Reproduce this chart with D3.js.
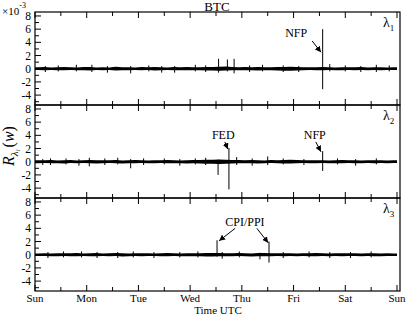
<!DOCTYPE html>
<html>
<head>
<meta charset="utf-8">
<script src="https://cdn.jsdelivr.net/npm/d3@7/dist/d3.min.js"></script>
<style>
  body { margin: 0; background: #fff; }
  svg, text { font-family: "Liberation Serif", "Times New Roman", Times, "DejaVu Serif", serif; }
  text { fill: #000; }
</style>
</head>
<body>
<svg id="chart" width="407" height="315"></svg>
<script>
// day labels on the time axis (one week, UTC)
var days = ['Sun', 'Mon', 'Tue', 'Wed', 'Thu', 'Fri', 'Sat', 'Sun'];
var yTicks = [-4, -2, 0, 2, 4, 6, 8];
var panelIndex = ['1', '2', '3'];

// noise envelope, one value every 3 hours (x10^-3)
var bandHi1 = [0.22,0.26,0.20,0.24,0.28,0.21,0.19,0.25, 0.27,0.20,0.23,0.19,0.29,0.24,0.21,0.20,
  0.25,0.21,0.27,0.23,0.19,0.25,0.22,0.26, 0.24,0.21,0.27,0.25,0.30,0.32,0.27,0.23,
  0.25,0.22,0.27,0.24,0.21,0.25,0.28,0.31, 0.27,0.24,0.23,0.21,0.26,0.22,0.20,0.24,
  0.23,0.21,0.25,0.19,0.22,0.24,0.20,0.21];
var bandLo1 = [-0.20,-0.24,-0.21,-0.25,-0.23,-0.19,-0.24,-0.22, -0.26,-0.21,-0.24,-0.20,-0.27,-0.23,-0.25,-0.21,
  -0.24,-0.20,-0.26,-0.24,-0.21,-0.23,-0.25,-0.22, -0.24,-0.23,-0.27,-0.28,-0.31,-0.28,-0.25,-0.24,
  -0.23,-0.25,-0.27,-0.24,-0.22,-0.26,-0.30,-0.29, -0.27,-0.24,-0.21,-0.24,-0.23,-0.20,-0.24,-0.22,
  -0.21,-0.23,-0.20,-0.24,-0.19,-0.22,-0.21,-0.20];
var bandHi2 = [0.21,0.24,0.26,0.20,0.23,0.25,0.19,0.22, 0.28,0.24,0.21,0.24,0.26,0.20,0.23,0.25,
  0.22,0.19,0.24,0.21,0.26,0.23,0.20,0.24, 0.25,0.27,0.29,0.31,0.33,0.30,0.28,0.25,
  0.24,0.26,0.23,0.20,0.25,0.22,0.27,0.30, 0.26,0.23,0.24,0.21,0.24,0.20,0.22,0.25,
  0.21,0.24,0.20,0.23,0.24,0.21,0.19,0.22];
var bandLo2 = [-0.23,-0.20,-0.24,-0.22,-0.26,-0.21,-0.24,-0.20, -0.25,-0.28,-0.23,-0.21,-0.24,-0.27,-0.22,-0.24,
  -0.21,-0.24,-0.23,-0.20,-0.25,-0.22,-0.24,-0.26, -0.23,-0.27,-0.30,-0.32,-0.34,-0.31,-0.27,-0.24,
  -0.25,-0.22,-0.27,-0.24,-0.21,-0.24,-0.28,-0.26, -0.24,-0.21,-0.25,-0.23,-0.20,-0.24,-0.22,-0.24,
  -0.20,-0.23,-0.25,-0.21,-0.24,-0.20,-0.22,-0.21];
var bandHi3 = [0.20,0.23,0.19,0.24,0.21,0.24,0.26,0.20, 0.22,0.25,0.20,0.23,0.27,0.21,0.19,0.24,
  0.21,0.24,0.20,0.23,0.25,0.22,0.19,0.24, 0.23,0.21,0.26,0.28,0.27,0.24,0.22,0.25,
  0.23,0.20,0.25,0.27,0.24,0.21,0.24,0.22, 0.20,0.24,0.21,0.25,0.23,0.19,0.22,0.24,
  0.21,0.23,0.20,0.24,0.22,0.19,0.21,0.20];
var bandLo3 = [-0.21,-0.19,-0.24,-0.22,-0.20,-0.24,-0.23,-0.21, -0.25,-0.22,-0.20,-0.24,-0.21,-0.26,-0.23,-0.20,
  -0.24,-0.21,-0.19,-0.24,-0.22,-0.20,-0.23,-0.25, -0.22,-0.24,-0.27,-0.26,-0.24,-0.25,-0.23,-0.21,
  -0.24,-0.26,-0.23,-0.25,-0.22,-0.20,-0.24,-0.21, -0.23,-0.20,-0.24,-0.22,-0.21,-0.24,-0.20,-0.23,
  -0.21,-0.19,-0.23,-0.20,-0.22,-0.24,-0.20,-0.21];

// jumps: [day, high, low]; the small ones give the band its fuzz
var spikes1 = [[0.2,0.4,-0.5],[0.45,0.5,-0.4],[0.8,0.6,-0.4],[1.1,0.6,-0.5],[1.4,0.4,-0.6],[1.85,0.4,-0.7],
  [2.2,0.5,-0.4],[2.45,0.4,-0.6],[2.7,0.4,-0.6],[3.1,0.6,-0.4],[3.3,0.5,-0.5],[3.55,1.5,-0.6],
  [3.72,1.4,-0.4],[3.85,1.5,-0.7],[4.15,0.5,-0.5],[4.4,0.6,-0.4],[4.8,0.5,-0.5],[5.1,0.4,-0.5],
  [5.5625,6.0,-3.1],[5.7,0.7,-0.4],[6.0,0.5,-0.4],[6.3,0.4,-0.5],[6.6,0.6,-0.5],[6.85,0.5,-0.4]];
var spikes2 = [[0.15,0.4,-0.5],[0.3,0.5,-0.5],[0.6,0.5,-0.4],[0.85,0.4,-0.6],[1.05,0.6,-0.7],[1.35,0.5,-0.5],
  [1.6,0.6,-0.4],[1.85,0.4,-1.0],[2.1,0.5,-0.5],[2.5,0.5,-0.4],[2.8,0.4,-0.6],[3.1,0.5,-0.4],
  [3.3,0.6,-0.5],[3.54,0.3,-2.0],[3.75,2.1,-4.2],[3.9,0.7,-0.5],[4.2,0.5,-0.6],[4.5,0.8,-0.5],
  [4.8,0.5,-0.4],[5.2,0.4,-0.5],[5.5625,1.6,-1.4],[5.85,0.5,-0.4],[6.2,0.4,-0.6],[6.6,0.5,-0.4]];
var spikes3 = [[0.25,0.4,-0.5],[0.55,0.5,-0.4],[0.9,0.5,-0.4],[1.2,0.4,-0.5],[1.6,0.4,-0.5],[1.9,0.5,-0.4],
  [2.3,0.4,-0.5],[2.8,0.4,-0.4],[3.15,0.5,-0.4],[3.52,2.2,-0.3],[3.62,0.4,-0.6],[3.95,0.5,-0.4],
  [4.35,0.3,-0.7],[4.525,2.0,-1.2],[4.8,0.4,-0.5],[5.3,0.5,-0.4],[5.7,0.4,-0.5],[6.1,0.4,-0.5],[6.5,0.5,-0.4]];

// event notes: label at [day, value], arrows [tailDay, tailVal, tipDay, tipVal]
var notes1 = [{ text: 'NFP', at: [5.05, 4.8], arrows: [[5.36, 4.2, 5.53, 2.5]] }];
var notes2 = [{ text: 'FED', at: [3.64, 3.4], arrows: [[3.67, 3.0, 3.73, 1.9]] },
  { text: 'NFP', at: [5.41, 3.4], arrows: [[5.43, 3.0, 5.53, 1.5]] }];
var notes3 = [{ text: 'CPI/PPI', at: [4.06, 4.35], arrows: [[3.87, 4.0, 3.56, 2.1], [4.29, 4.0, 4.51, 1.8]] }];

var panels = [
  { hi: bandHi1, lo: bandLo1, spikes: spikes1, notes: notes1 },
  { hi: bandHi2, lo: bandLo2, spikes: spikes2, notes: notes2 },
  { hi: bandHi3, lo: bandLo3, spikes: spikes3, notes: notes3 }
];

var left = 35, frameRight = 400, top0 = 12, panelH = 93;

var svg = d3.select('#chart');
var x = d3.scaleLinear().domain([0, 7]).range([35, 397]);
var y = d3.scaleLinear().domain([-5.5, 8.6]).range([panelH, 0]);

svg.append('defs').append('marker')
  .attr('id', 'head')
  .attr('viewBox', '0 0 8 8')
  .attr('refX', 8).attr('refY', 4)
  .attr('markerWidth', 6).attr('markerHeight', 6)
  .attr('markerUnits', 'userSpaceOnUse')
  .attr('orient', 'auto')
  .append('path')
  .attr('d', 'M0,0L8,4L0,8z')
  .attr('fill', '#000');

var majorX = d3.range(0, 8), minorX = d3.range(0.5, 7, 1);
var minorY = d3.range(-5, 9, 2);

panels.forEach(function(p, i) {
  var g = svg.append('g').attr('transform', 'translate(0,' + (top0 + i * panelH) + ')');

  var band = p.hi.map(function(h, k) { return { t: (k + 0.5) * 3 / 24, hi: h, lo: p.lo[k] }; });
  band.unshift({ t: 0, hi: p.hi[0], lo: p.lo[0] });
  band.push({ t: 7, hi: p.hi[p.hi.length - 1], lo: p.lo[p.lo.length - 1] });

  g.append('path')
    .datum(band)
    .attr('d', d3.area()
      .x(function(d) { return x(d.t); })
      .y0(function(d) { return y(d.lo); })
      .y1(function(d) { return y(d.hi); }))
    .attr('fill', '#000');

  g.selectAll('line.spike')
    .data(p.spikes)
    .enter()
    .append('line')
    .classed('spike', true)
    .attr('x1', function(d) { return x(d[0]); })
    .attr('x2', function(d) { return x(d[0]); })
    .attr('y1', function(d) { return y(d[1]); })
    .attr('y2', function(d) { return y(d[2]); })
    .attr('stroke', '#000')
    .attr('stroke-width', 1);

  // frame
  g.append('rect')
    .attr('x', left).attr('y', 0)
    .attr('width', frameRight - left).attr('height', panelH)
    .attr('fill', 'none')
    .attr('stroke', '#000')
    .attr('stroke-width', 1.2);

  // x ticks, top and bottom, pointing in
  [[majorX, 6], [minorX, 4]].forEach(function(s) {
    g.selectAll(null).data(s[0]).enter().append('line')
      .attr('x1', function(d) { return x(d); }).attr('x2', function(d) { return x(d); })
      .attr('y1', 0).attr('y2', s[1])
      .attr('stroke', '#000').attr('stroke-width', 1);
    g.selectAll(null).data(s[0]).enter().append('line')
      .attr('x1', function(d) { return x(d); }).attr('x2', function(d) { return x(d); })
      .attr('y1', panelH).attr('y2', panelH - s[1])
      .attr('stroke', '#000').attr('stroke-width', 1);
  });

  // y ticks on the left
  [[yTicks, 6], [minorY, 4]].forEach(function(s) {
    g.selectAll(null).data(s[0]).enter().append('line')
      .attr('y1', function(d) { return y(d); }).attr('y2', function(d) { return y(d); })
      .attr('x1', left).attr('x2', left + s[1])
      .attr('stroke', '#000').attr('stroke-width', 1);
  });

  g.selectAll('text.ylab')
    .data(yTicks)
    .enter()
    .append('text')
    .classed('ylab', true)
    .attr('x', 31)
    .attr('y', function(d) { return y(d) + 4; })
    .attr('text-anchor', 'end')
    .attr('font-size', 11.5)
    .text(function(d) { return d; });

  // lambda label
  var lam = g.append('text').attr('x', 383).attr('y', 15).attr('font-size', 14);
  lam.append('tspan').text('λ');
  lam.append('tspan').attr('dy', 4).attr('font-size', 9).text(panelIndex[i]);

  // notes
  p.notes.forEach(function(n) {
    g.append('text')
      .attr('x', x(n.at[0])).attr('y', y(n.at[1]))
      .attr('text-anchor', 'middle')
      .attr('font-size', 12)
      .text(n.text);
    n.arrows.forEach(function(a) {
      g.append('line')
        .attr('x1', x(a[0])).attr('y1', y(a[1]))
        .attr('x2', x(a[2])).attr('y2', y(a[3]))
        .attr('stroke', '#000').attr('stroke-width', 1)
        .attr('marker-end', 'url(#head)');
    });
  });
});

// day labels
svg.selectAll('text.day')
  .data(days)
  .enter()
  .append('text')
  .classed('day', true)
  .attr('x', function(d, i) { return x(i); })
  .attr('y', 302)
  .attr('text-anchor', 'middle')
  .attr('font-size', 11)
  .text(function(d) { return d; });

svg.append('text')
  .attr('x', 218).attr('y', 314)
  .attr('text-anchor', 'middle')
  .attr('font-size', 11)
  .text('Time UTC');

svg.append('text')
  .attr('x', 217).attr('y', 11)
  .attr('text-anchor', 'middle')
  .attr('font-size', 13)
  .text('BTC');

var exp = svg.append('text').attr('x', 2).attr('y', 15).attr('font-size', 11);
exp.append('tspan').text('×10');
exp.append('tspan').attr('dy', -7).attr('font-size', 8).text('-3');

var ylab = svg.append('text')
  .attr('transform', 'translate(14,146) rotate(-90)')
  .attr('text-anchor', 'middle')
  .attr('font-size', 16);
ylab.append('tspan').attr('font-style', 'italic').text('R');
ylab.append('tspan').attr('font-style', 'italic').attr('dy', 4).attr('font-size', 11).text('λ');
ylab.append('tspan').attr('font-style', 'italic').attr('dy', 2).attr('font-size', 7).text('i');
ylab.append('tspan').attr('dy', -6).attr('dx', 2).text('(');
ylab.append('tspan').attr('font-style', 'italic').text('w');
ylab.append('tspan').text(')');
</script>
</body>
</html>
